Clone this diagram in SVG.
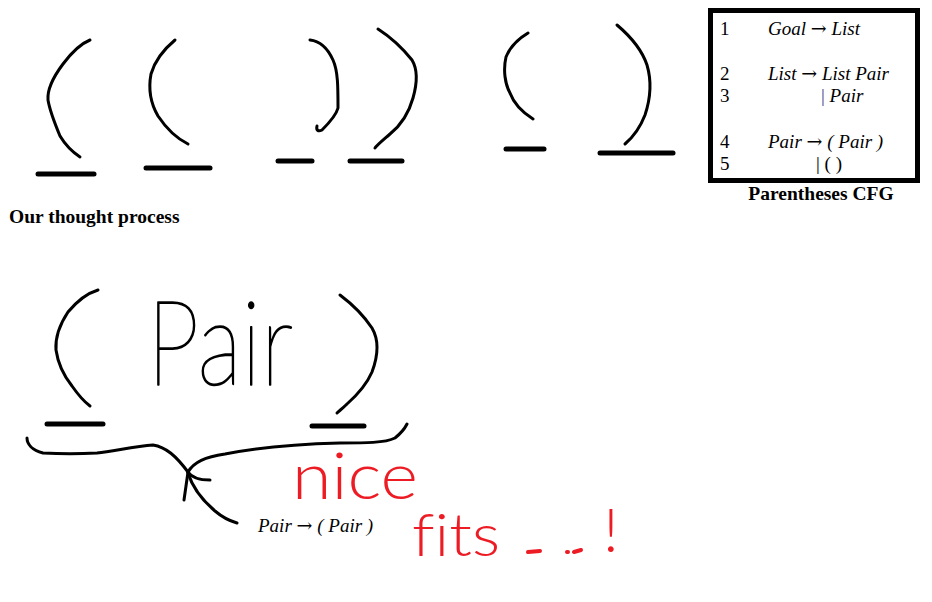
<svg xmlns="http://www.w3.org/2000/svg" width="932" height="602" viewBox="0 0 932 602">
<style>
.ink{fill:none;stroke:#000;stroke-width:3;stroke-linecap:round;stroke-linejoin:round}
.bar{fill:none;stroke:#000;stroke-width:5;stroke-linecap:round}
.red{fill:none;stroke:#ed1c24;stroke-width:4;stroke-linecap:round;stroke-linejoin:round}
.serif{font-family:"Liberation Serif","Times New Roman",serif;font-size:19px;fill:#000}
.it{font-style:italic}
.bold{font-weight:bold;font-size:19.5px}
.arr{font-family:"DejaVu Serif",serif;font-style:normal;font-size:19px}
.hand{font-family:Lato,"Liberation Sans",sans-serif;font-weight:200;fill:#000;stroke:#000;stroke-width:1.6;stroke-linejoin:round}
.redtxt{font-family:Lato,"Liberation Sans",sans-serif;font-weight:300;fill:#ed1c24;font-variant-ligatures:none}
</style>
<rect width="932" height="602" fill="#fff"/>

<g id="thought-top">
<path class="ink" d="M90,40 C80,44 72,52 63,64 C54,76 47,88 48,100 C50,112 55,124 60,136 C66,146 74,153 80,157"/>
<line class="bar" x1="38" y1="174" x2="94" y2="174"/>
<path class="ink" d="M175,40 C163,50 155,60 151,74 C148,90 151,104 158,116 C166,128 176,138 188,144"/>
<line class="bar" x1="146" y1="168" x2="210" y2="168"/>
<path class="ink" d="M310,40 C320,41 328,49 333,60 C338,71 338,87 338,108 C336,116 328,124 322,130 C318,132 316,130 317,126"/>
<line class="bar" x1="278" y1="161" x2="312" y2="161"/>
<path class="ink" d="M378,29 C392,38 404,50 412,60 C418,70 417,84 413,98 C408,116 400,126 390,134 C382,141 377,145 375,148"/>
<line class="bar" x1="350" y1="161" x2="402" y2="161"/>
<path class="ink" d="M528,33 C518,39 510,47 506,57 C503,70 505,84 510,93 C514,104 522,112 533,119"/>
<line class="bar" x1="506" y1="149" x2="544" y2="149"/>
<path class="ink" d="M617,25 C630,36 642,50 647,65 C652,82 650,100 645,115 C640,128 632,138 625,144"/>
<line class="bar" x1="600" y1="153" x2="673" y2="153"/>
</g>

<g id="cfg-box">
<rect x="710.5" y="10.5" width="207" height="170" fill="none" stroke="#000" stroke-width="5"/>
<text class="serif" x="720" y="35">1</text>
<text class="serif it" x="768" y="35">Goal <tspan class="arr">→</tspan> List</text>
<text class="serif" x="720" y="80">2</text>
<text class="serif it" x="768" y="80">List <tspan class="arr">→</tspan> List Pair</text>
<text class="serif" x="720" y="102">3</text>
<text class="serif it" x="821" y="102"><tspan style="fill:#3c3c8c;font-style:normal">|</tspan> Pair</text>
<text class="serif" x="720" y="148">4</text>
<text class="serif it" x="768" y="148">Pair <tspan class="arr">→</tspan> ( Pair )</text>
<text class="serif" x="720" y="170">5</text>
<text class="serif" x="816" y="170">| ( )</text>
</g>
<text class="serif bold" x="821" y="200" text-anchor="middle">Parentheses CFG</text>
<text class="serif bold" x="9" y="223">Our thought process</text>

<g id="thought-bottom">
<path class="ink" d="M98,290 C88,293 78,300 68,312 C60,324 55,336 56,350 C58,364 64,376 72,386 C79,396 86,403 90,406"/>
<line class="bar" x1="47" y1="424" x2="103" y2="424"/>
<text class="hand" x="147" y="385" font-size="118" textLength="146" lengthAdjust="spacingAndGlyphs">Pair</text>
<path class="ink" d="M340,295 C352,304 364,316 372,328 C379,340 378,356 372,372 C366,386 356,396 347,404 C343,408 339,411 337,413"/>
<line class="bar" x1="312" y1="426" x2="364" y2="426"/>
</g>

<g id="connectors">
<path class="ink" d="M27,438 C27,444 32,450 43,453 C60,454 80,454 97,453 C115,451 135,446 153,445 C166,447 176,456 188,472"/>
<path class="ink" d="M188,472 C194,462 205,457 225,454 C260,447 300,444 340,443 C365,443 385,443 395,438 C400,434 405,428 407,424"/>
<path class="ink" d="M188,472 L184,500"/>
<path class="ink" d="M188,472 C192,478 200,480 210,480"/>
<path class="ink" d="M188,473 C192,486 202,500 215,511 C222,517 230,521 237,523"/>
</g>
<text class="serif it" x="258" y="532">Pair <tspan class="arr">→</tspan> ( Pair )</text>

<g id="comment">
<text class="redtxt" x="292" y="499" font-size="66" textLength="126" lengthAdjust="spacingAndGlyphs">nice</text>
<text class="redtxt" x="412" y="556" font-size="60" textLength="88" lengthAdjust="spacingAndGlyphs">fits</text>
<line class="red" x1="528" y1="552" x2="540" y2="551"/>
<line class="red" x1="567" y1="552" x2="568" y2="552"/>
<line class="red" x1="574" y1="552" x2="581" y2="550"/>
<text class="redtxt" x="603" y="552" font-size="62">!</text>
</g>
</svg>
